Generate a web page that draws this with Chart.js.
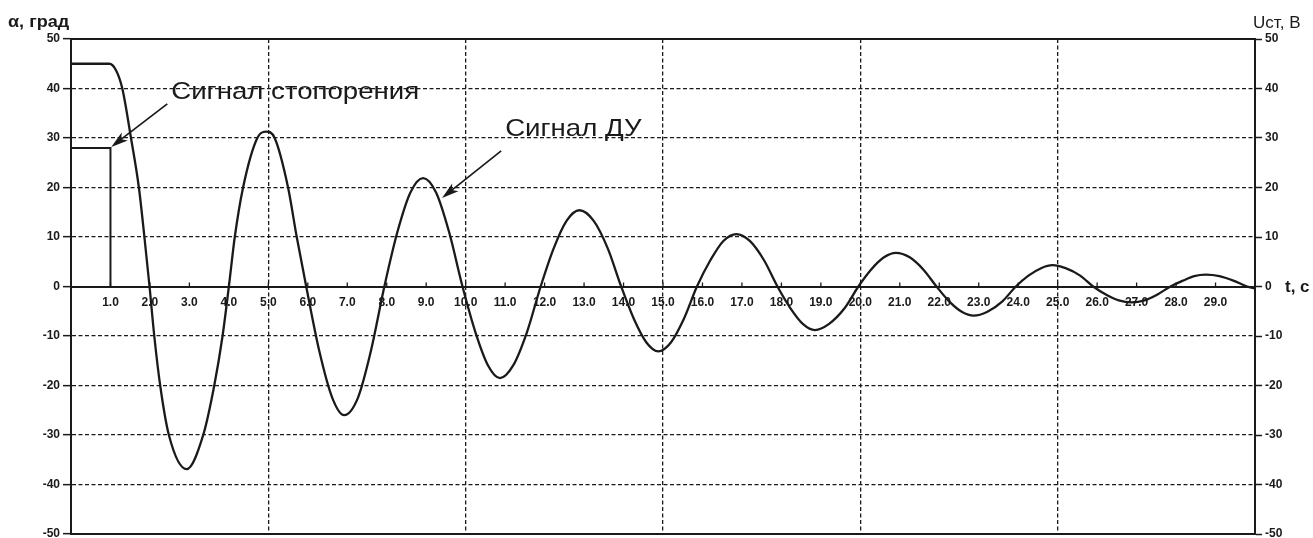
<!DOCTYPE html>
<html>
<head>
<meta charset="utf-8">
<script src="https://cdn.jsdelivr.net/npm/chart.js@4.4.0/dist/chart.umd.min.js"></script>
<style>
html, body { margin: 0; padding: 0; background: #fff; }
</style>
</head>
<body>
<canvas id="chart" width="1313" height="538"></canvas>
<script>
// Сигнал ДУ (угол, град) - time, value
const timeDU = [0, 0.97, 1.14, 1.3, 1.52, 1.72, 1.86, 1.99,
    2.11, 2.26, 2.48, 2.93, 3.35, 3.63, 3.84, 4.0,
    4.15, 4.36, 4.72, 4.94, 5.16, 5.5, 5.72, 5.96,
    6.29, 6.62, 6.92, 7.27, 7.6, 7.94,
    8.27, 8.6, 8.92, 9.25, 9.58, 9.92,
    10.25, 10.57, 10.87, 11.2, 11.55, 11.9,
    12.23, 12.56, 12.88, 13.24, 13.6, 13.94,
    14.26, 14.58, 14.88, 15.2, 15.53, 15.86,
    16.2, 16.53, 16.86, 17.2, 17.56, 17.9,
    18.23, 18.55, 18.85, 19.2, 19.6, 19.95,
    20.27, 20.6, 20.9, 21.25, 21.6, 21.93,
    22.25, 22.57, 22.87, 23.22, 23.6, 23.94,
    24.26, 24.58, 24.87, 25.2, 25.57, 25.9,
    26.22, 26.55, 26.87, 27.2, 27.53, 27.86,
    28.18, 28.46, 28.75, 29.1, 29.45, 29.8, 30];
const alphaDU = [45, 45, 43.7, 40, 30, 20, 10, 0,
    -10, -20, -30, -36.9, -30, -20, -10, 0,
    10, 20, 30, 31.3, 30, 20, 10, 0,
    -13, -22.5, -26, -22.5, -13, 0,
    11, 19, 21.9, 19, 11, 0,
    -9.3, -16, -18.5, -16, -9.3, 0,
    7.7, 13.3, 15.4, 13.3, 7.7, 0,
    -6.5, -11.3, -13.1, -11.3, -6.5, 0,
    5.3, 9.2, 10.6, 9.2, 5.3, 0,
    -4.4, -7.6, -8.8, -7.6, -4.4, 0,
    3.4, 5.9, 6.8, 5.9, 3.4, 0,
    -3, -5.1, -5.9, -5.1, -3, 0,
    2.2, 3.7, 4.3, 3.7, 2.2, 0,
    -1.6, -2.8, -3.2, -2.8, -1.6, 0,
    1.2, 2.1, 2.4, 2.1, 1.2, 0, -0.4];

// Сигнал стопорения (Uст, В)
const timeStop = [0, 1.0, 1.0];
const uStop = [28, 28, 0];

// x tick labels, index = t value
const xTickLabels = ['', '1.0', '2.0', '3.0', '4.0', '5.0', '6.0', '7.0', '8.0', '9.0', '10.0',
    '11.0', '12.0', '13.0', '14.0', '15.0', '16.0', '17.0', '18.0', '19.0', '20.0',
    '21.0', '22.0', '23.0', '24.0', '25.0', '26.0', '27.0', '28.0', '29.0', ''];
const xGridEvery = 5;

// callouts: text anchor and arrow, in data units (t, value)
const callouts = [
    { text: 'Сигнал стопорения', t: 2.54, v: 37.8, fromT: 2.44, fromV: 36.9, toT: 1.02, toV: 28.2 },
    { text: 'Сигнал ДУ', t: 11.0, v: 30.5, fromT: 10.9, fromV: 27.4, toT: 9.4, toV: 17.9 }
];

const ink = '#1a1a1a';
const fam = 'Liberation Sans, Arial, sans-serif';
const tickFont = { family: fam, size: 12, weight: 'bold' };

function arrow(ctx, x1, y1, x2, y2) {
    const ang = Math.atan2(y2 - y1, x2 - x1);
    const len = 17, half = 5;
    const c = Math.cos(ang), s = Math.sin(ang);
    ctx.beginPath();
    ctx.moveTo(x1, y1);
    ctx.lineTo(x2 - c * len * 0.6, y2 - s * len * 0.6);
    ctx.stroke();
    ctx.beginPath();
    ctx.moveTo(x2, y2);
    ctx.lineTo(x2 - c * len - s * half, y2 - s * len + c * half);
    ctx.lineTo(x2 - c * len * 0.75, y2 - s * len * 0.75);
    ctx.lineTo(x2 - c * len + s * half, y2 - s * len - c * half);
    ctx.closePath();
    ctx.fill();
}

// text stretched horizontally, like the scanned original
function wideText(ctx, text, px, py, k) {
    ctx.save();
    ctx.translate(px, py);
    ctx.scale(k, 1);
    ctx.fillText(text, 0, 0);
    ctx.restore();
}

const decor = {
    id: 'decor',
    afterDraw(chart) {
        const { ctx, chartArea: a, scales: { x, y } } = chart;
        ctx.save();
        ctx.strokeStyle = ink;
        ctx.fillStyle = ink;
        // top and bottom frame
        ctx.lineWidth = 2;
        ctx.beginPath();
        ctx.moveTo(a.left - 1, a.top);
        ctx.lineTo(a.right + 1, a.top);
        ctx.moveTo(a.left - 1, a.bottom);
        ctx.lineTo(a.right + 1, a.bottom);
        ctx.stroke();

        // small ticks above the t axis
        const y0 = y.getPixelForValue(0);
        ctx.lineWidth = 1.3;
        ctx.beginPath();
        x.ticks.forEach(tk => {
            if (tk.value <= 0 || tk.value >= 30) return;
            const px = x.getPixelForValue(tk.value);
            ctx.moveTo(px, y0);
            ctx.lineTo(px, y0 - 4);
        });
        ctx.stroke();

        // axis titles
        ctx.textBaseline = 'alphabetic';
        ctx.textAlign = 'left';
        ctx.font = 'bold 16px ' + fam;
        wideText(ctx, 'α, град', 8, 27, 1.13);
        ctx.font = '17px ' + fam;
        ctx.fillText('Uст, В', 1253, 28);
        ctx.font = 'bold 17px ' + fam;
        ctx.textBaseline = 'middle';
        ctx.fillText('t, с', 1285, y0 + 1);

        // callouts
        ctx.textBaseline = 'alphabetic';
        ctx.font = '24px ' + fam;
        ctx.lineWidth = 1.7;
        callouts.forEach(c => {
            wideText(ctx, c.text, x.getPixelForValue(c.t), y.getPixelForValue(c.v), 1.15);
            arrow(ctx, x.getPixelForValue(c.fromT), y.getPixelForValue(c.fromV),
                x.getPixelForValue(c.toT), y.getPixelForValue(c.toV));
        });
        ctx.restore();
    }
};

const ctx = document.getElementById('chart').getContext('2d');
new Chart(ctx, {
    type: 'line',
    data: {
        datasets: [
            {
                label: 'Сигнал ДУ',
                data: timeDU.map((t, i) => ({ x: t, y: alphaDU[i] })),
                borderColor: ink,
                borderWidth: 2.3,
                pointRadius: 0,
                cubicInterpolationMode: 'monotone',
                yAxisID: 'y'
            },
            {
                label: 'Сигнал стопорения',
                data: timeStop.map((t, i) => ({ x: t, y: uStop[i] })),
                borderColor: ink,
                borderWidth: 2,
                pointRadius: 0,
                tension: 0,
                yAxisID: 'y2'
            }
        ]
    },
    options: {
        responsive: false,
        animation: false,
        layout: { padding: { top: 39, bottom: 4, left: 0, right: 0 } },
        plugins: {
            legend: { display: false },
            tooltip: { enabled: false }
        },
        scales: {
            x: {
                type: 'linear',
                min: 0,
                max: 30,
                position: { y: 0 },
                ticks: {
                    stepSize: 1,
                    autoSkip: false,
                    maxRotation: 0,
                    padding: 9,
                    color: ink,
                    font: tickFont,
                    callback: v => xTickLabels[v] || ''
                },
                grid: {
                    drawTicks: false,
                    lineWidth: 1.3,
                    color: c => (c.tick && c.tick.value % xGridEvery === 0 && c.tick.value > 0 && c.tick.value < 30) ? ink : 'rgba(0,0,0,0)'
                },
                border: { display: true, color: ink, width: 2, dash: [4, 2.5] }
            },
            y: {
                position: 'left',
                min: -50,
                max: 50,
                ticks: { stepSize: 10, padding: 3, color: ink, font: tickFont },
                grid: { color: ink, lineWidth: 1.3, tickLength: 8, tickWidth: 1.5 },
                border: { display: true, color: ink, width: 2, dash: [4, 2.5] },
                afterFit: s => { s.width = 71; s.paddingTop = 0; s.paddingBottom = 0; }
            },
            y2: {
                position: 'right',
                min: -50,
                max: 50,
                ticks: { stepSize: 10, padding: 3, color: ink, font: tickFont },
                grid: { drawOnChartArea: false, color: ink, tickLength: 7, tickWidth: 1.5 },
                border: { display: true, color: ink, width: 2 },
                afterFit: s => { s.width = 58; s.paddingTop = 0; s.paddingBottom = 0; }
            }
        }
    },
    plugins: [decor]
});
</script>
</body>
</html>
